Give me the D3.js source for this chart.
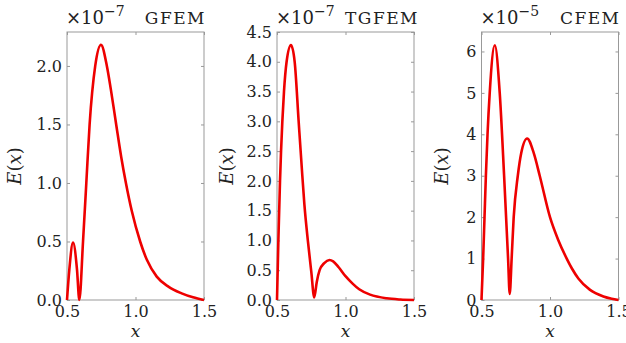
<!DOCTYPE html>
<html>
<head>
<meta charset="utf-8">
<script src="https://cdn.jsdelivr.net/npm/d3@7"></script>
<style>
  body { margin: 0; background: #fff; }
  svg { display: block; }
  text { font-family: "DejaVu Serif", "Liberation Serif", serif; fill: #222; }
</style>
</head>
<body>
<svg id="chart" width="626" height="343"></svg>
<script>
// panel names and the power of ten shown above each panel
const methods = ["GFEM", "TGFEM", "CFEM"];
const exponents = ["\u22127", "\u22127", "\u22125"];

// x ticks shared by all panels
const xTicks = [0.5, 1.0, 1.5];

// y ticks per panel
const gfemTicks = [0, 0.5, 1.0, 1.5, 2.0];
const tgfemTicks = [0, 0.5, 1.0, 1.5, 2.0, 2.5, 3.0, 3.5, 4.0, 4.5];
const cfemTicks = [0, 1, 2, 3, 4, 5, 6];

// y axis upper limits (in units of the shown power of ten)
const yMax = [2.29, 4.5, 6.47];

// error curves
const gfemX = [0.5, 0.517, 0.544, 0.573, 0.59, 0.617, 0.641, 0.665, 0.706, 0.748, 0.791, 0.82, 0.859, 0.896, 0.93, 0.973, 1.034, 1.083, 1.155, 1.24, 1.337, 1.42, 1.5];
const gfemE = [0, 0.26, 0.49, 0.26, 0, 0.5, 1.0, 1.5, 2.0, 2.18, 2.0, 1.8, 1.5, 1.22, 1.0, 0.76, 0.5, 0.343, 0.2, 0.114, 0.057, 0.023, 0];

const tgfemX = [0.5, 0.51, 0.522, 0.539, 0.551, 0.57, 0.602, 0.629, 0.658, 0.68, 0.70, 0.726, 0.75, 0.772, 0.79, 0.811, 0.845, 0.883, 0.91, 0.95, 1.0, 1.05, 1.1, 1.18, 1.3, 1.4, 1.5];
const tgfemE = [0, 1.0, 2.0, 3.0, 3.5, 4.0, 4.28, 4.0, 3.0, 2.25, 1.6, 0.98, 0.48, 0.044, 0.3, 0.5, 0.62, 0.672, 0.65, 0.55, 0.4, 0.28, 0.18, 0.09, 0.028, 0.008, 0];

const cfemX = [0.5, 0.512, 0.522, 0.532, 0.544, 0.56, 0.597, 0.633, 0.665, 0.694, 0.706, 0.72, 0.735, 0.765, 0.79, 0.833, 0.881, 0.925, 1.0, 1.06, 1.122, 1.16, 1.207, 1.29, 1.39, 1.45, 1.5];
const cfemE = [0, 1, 2, 3, 4, 5, 6.15, 5, 3, 1, 0.145, 1.0, 2, 3, 3.55, 3.9, 3.55, 3, 2, 1.45, 1.0, 0.76, 0.52, 0.25, 0.085, 0.03, 0];

const curves = [[gfemX, gfemE], [tgfemX, tgfemE], [cfemX, cfemE]];
const yTickSets = [gfemTicks, tgfemTicks, cfemTicks];
const yFormats = [d3.format(".1f"), d3.format(".1f"), d3.format("d")];

const svg = d3.select("#chart");
const lefts = [67, 277, 481.5];
const w = 137, plotTop = 32, plotBottom = 300;
const labelX = [15, 227, 442];
const grey = "#999";

methods.forEach((name, i) => {
  const h = plotBottom - plotTop;
  const x = d3.scaleLinear().domain([0.5, 1.5]).range([0, w]);
  const y = d3.scaleLinear().domain([0, yMax[i]]).range([h, 0]);
  const g = svg.append("g").attr("transform", `translate(${lefts[i]},${plotTop})`);

  // axes with inward ticks
  const ax = g.append("g").attr("transform", `translate(0,${h})`)
    .call(d3.axisBottom(x).tickValues(xTicks).tickFormat(d3.format(".1f")).tickSizeInner(-3).tickSizeOuter(0).tickPadding(6));
  const ay = g.append("g")
    .call(d3.axisLeft(y).tickValues(yTickSets[i]).tickFormat(yFormats[i]).tickSizeInner(-3).tickSizeOuter(0).tickPadding(5));
  const at = g.append("g")
    .call(d3.axisTop(x).tickValues(xTicks).tickFormat("").tickSizeInner(-3).tickSizeOuter(0));
  const ar = g.append("g").attr("transform", `translate(${w},0)`)
    .call(d3.axisRight(y).tickValues(yTickSets[i]).tickFormat("").tickSizeInner(-3).tickSizeOuter(0));

  [ax, ay, at, ar].forEach(a => {
    a.select(".domain").remove();
    a.selectAll("line").attr("stroke", grey);
    a.selectAll("text").attr("font-size", 16).attr("fill", "#222")
      .style("font-family", '"DejaVu Serif", serif');
  });

  g.append("rect").attr("width", w).attr("height", h)
    .attr("fill", "none").attr("stroke", grey).attr("stroke-width", 1);

  // curve
  const pts = curves[i][0].map((xv, k) => [xv, curves[i][1][k]]);
  g.append("path").datum(pts)
    .attr("fill", "none").attr("stroke", "#ee0000").attr("stroke-width", 2.6)
    .attr("stroke-linejoin", "round")
    .attr("d", d3.line().x(d => x(d[0])).y(d => y(d[1])).curve(d3.curveMonotoneX));

  // title: x10^n and method name
  const t = svg.append("text").attr("x", lefts[i] - 1).attr("y", 24).attr("font-size", 18);
  t.append("tspan").text("\u00d710");
  t.append("tspan").attr("font-size", 14).attr("dy", -8).text(exponents[i]);
  svg.append("text").attr("x", lefts[i] + w + (i === 1 ? 5 : 2)).attr("y", 24)
    .attr("text-anchor", "end").attr("font-size", 17).attr("letter-spacing", 1.5)
    .text(name);

  // axis labels
  svg.append("text").attr("x", lefts[i] + w / 2).attr("y", 337)
    .attr("text-anchor", "middle").attr("font-size", 17).attr("font-style", "italic").text("x");
  const yl = svg.append("text")
    .attr("transform", `translate(${labelX[i]},${(plotTop + plotBottom) / 2}) rotate(-90)`)
    .attr("text-anchor", "middle").attr("dy", "0.35em").attr("font-size", 18);
  yl.append("tspan").attr("font-style", "italic").text("E");
  yl.append("tspan").text("(");
  yl.append("tspan").attr("font-style", "italic").text("x");
  yl.append("tspan").text(")");
});
</script>
</body>
</html>
